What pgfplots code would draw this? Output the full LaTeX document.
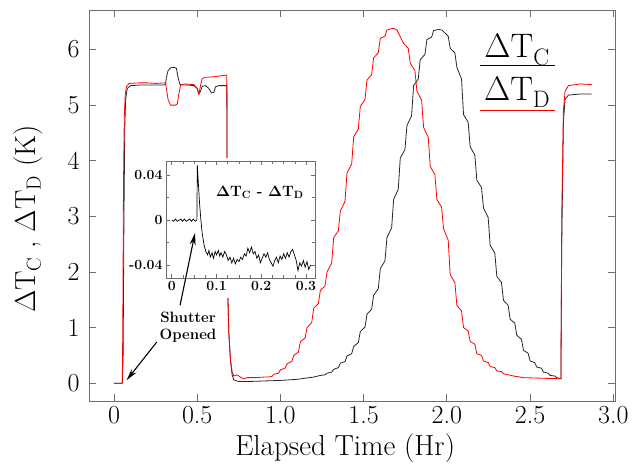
\documentclass[border=0pt]{standalone}
\usepackage{fontspec}
\usepackage{pgfplots}
\pgfplotsset{compat=1.18}
\usetikzlibrary{arrows.meta}
\definecolor{framegray}{RGB}{110,110,110}

\begin{document}
\begin{tikzpicture}
\begin{axis}[
  scale only axis,
  width=526pt, height=391pt,
  xmin=-0.15, xmax=3.01,
  ymin=-0.32, ymax=6.71,
  xtick={0,0.5,1,1.5,2,2.5,3},
  xticklabels={0,0.5,1.0,1.5,2.0,2.5,3.0},
  ytick={0,1,2,3,4,5,6},
  yticklabels={0,1,2,3,4,5,6},
  tick align=inside,
  major tick length=7pt,
  axis line style={framegray, line width=0.9pt},
  every tick/.style={framegray, line width=0.9pt},
  tick label style={font=\fontsize{26}{26}\selectfont},
  xticklabel style={yshift=-2pt},
  yticklabel style={xshift=-6pt},
  xlabel={Elapsed Time (Hr)},
  ylabel={ΔT\textsubscript{C} , ΔT\textsubscript{D} (K)},
  label style={font=\fontsize{29}{29}\selectfont},
  xlabel style={at={(axis description cs:0.487,-0.12)}, anchor=center},
  ylabel style={at={(axis description cs:-0.116,0.465)}, anchor=center},
]
% Delta T_C (black)
\addplot[black!85, line width=0.8pt] coordinates {
(0,0) (0.05,0) (0.055,0.5) (0.06,3.0) (0.065,4.6) (0.07,5.1) (0.08,5.3) (0.1,5.35)
(0.15,5.36) (0.2,5.36) (0.25,5.36) (0.30,5.36) (0.31,5.38) (0.315,5.5) (0.325,5.62)
(0.34,5.67) (0.36,5.68) (0.375,5.66) (0.385,5.5) (0.395,5.38) (0.41,5.36) (0.45,5.36)
(0.48,5.35) (0.50,5.30) (0.51,5.20) (0.52,5.25) (0.53,5.34) (0.55,5.35) (0.57,5.30)
(0.585,5.22) (0.60,5.23) (0.61,5.33) (0.63,5.35) (0.678,5.35) (0.68,3.5) (0.685,1.5)
(0.69,0.9) (0.70,0.4) (0.71,0.15) (0.72,0.06) (0.75,0.03) (0.8,0.03) (0.9,0.04)
(1.0,0.05) (1.1,0.07) (1.2,0.11)
(1.24,0.14) (1.268,0.15) (1.28,0.18) (1.308,0.20) (1.32,0.25) (1.348,0.28)
(1.36,0.36) (1.388,0.39) (1.40,0.49) (1.428,0.53) (1.44,0.66) (1.468,0.73)
(1.48,0.93) (1.508,1.01) (1.52,1.24) (1.548,1.33) (1.56,1.58) (1.588,1.70)
(1.60,2.06) (1.628,2.20) (1.64,2.62) (1.668,2.79) (1.68,3.30) (1.708,3.49)
(1.72,4.05) (1.748,4.20) (1.76,4.63) (1.788,4.81) (1.80,5.35) (1.828,5.47)
(1.84,5.82) (1.868,5.91) (1.88,6.18) (1.908,6.22) (1.92,6.34) (1.95,6.36) (1.97,6.35)
(1.98,6.32) (2.008,6.24) (2.02,6.02) (2.048,5.94) (2.06,5.68) (2.088,5.47)
(2.10,4.83) (2.128,4.69) (2.14,4.25) (2.168,4.10) (2.18,3.65) (2.208,3.52)
(2.22,3.15) (2.248,2.98) (2.26,2.48) (2.288,2.34) (2.30,1.92) (2.328,1.81)
(2.34,1.49) (2.368,1.40) (2.38,1.15) (2.408,1.08) (2.42,0.86) (2.448,0.79)
(2.46,0.59) (2.488,0.54) (2.50,0.40) (2.528,0.37) (2.54,0.29) (2.568,0.27)
(2.58,0.20) (2.608,0.18) (2.62,0.14) (2.648,0.13) (2.66,0.10) (2.685,0.08)
(2.69,2.5) (2.70,4.7) (2.71,5.1) (2.73,5.18) (2.8,5.2) (2.87,5.2)
};
% Delta T_D (red)
\addplot[red, line width=0.8pt] coordinates {
(0,0) (0.05,0) (0.053,1.0) (0.057,3.5) (0.062,4.8) (0.068,5.2) (0.075,5.33) (0.09,5.39)
(0.15,5.40) (0.2,5.40) (0.25,5.39) (0.31,5.40) (0.315,5.3) (0.325,5.1) (0.34,5.0)
(0.37,5.0) (0.38,5.02) (0.39,5.2) (0.40,5.36) (0.42,5.38) (0.48,5.37) (0.50,5.30)
(0.51,5.20) (0.52,5.35) (0.53,5.48) (0.55,5.50) (0.60,5.51) (0.65,5.53) (0.678,5.54)
(0.68,3.5) (0.685,1.5) (0.69,0.9) (0.70,0.42) (0.71,0.2) (0.72,0.13) (0.74,0.15)
(0.76,0.11) (0.78,0.08) (0.8,0.10) (0.85,0.10) (0.9,0.11)
(0.92,0.11) (0.948,0.12) (0.96,0.16) (0.988,0.18) (1.00,0.24) (1.028,0.27)
(1.04,0.35) (1.068,0.39) (1.08,0.50) (1.108,0.56) (1.12,0.75) (1.148,0.81)
(1.16,1.00) (1.188,1.09) (1.20,1.35) (1.228,1.43) (1.24,1.67) (1.268,1.75)
(1.28,2.00) (1.308,2.16) (1.32,2.62) (1.348,2.74) (1.36,3.10) (1.388,3.27)
(1.40,3.78) (1.428,3.94) (1.44,4.43) (1.468,4.57) (1.48,4.98) (1.508,5.10)
(1.52,5.45) (1.548,5.55) (1.56,5.85) (1.588,5.94) (1.60,6.20) (1.628,6.24)
(1.64,6.35) (1.66,6.37) (1.68,6.38) (1.70,6.35)
(1.74,6.11) (1.768,6.02) (1.78,5.75) (1.808,5.62) (1.82,5.25) (1.848,5.09)
(1.86,4.60) (1.888,4.42) (1.90,3.90) (1.928,3.75) (1.94,3.30) (1.968,3.17)
(1.98,2.78) (2.008,2.57) (2.02,1.95) (2.048,1.81) (2.06,1.40) (2.088,1.30)
(2.10,1.00) (2.128,0.94) (2.14,0.75) (2.168,0.70) (2.18,0.53) (2.208,0.50)
(2.22,0.40) (2.248,0.37) (2.26,0.30) (2.288,0.28) (2.30,0.22) (2.328,0.21)
(2.34,0.17) (2.40,0.13) (2.46,0.10) (2.56,0.09) (2.685,0.08)
(2.69,3.0) (2.70,4.9) (2.71,5.25) (2.73,5.35) (2.8,5.38) (2.87,5.37)
};
% legend
\draw[black, line width=1pt] (axis description cs:0.743,0.857) -- (axis description cs:0.886,0.857);
\draw[red, line width=1pt] (axis description cs:0.743,0.744) -- (axis description cs:0.886,0.744);
\node[font=\fontsize{34}{34}\selectfont] at (axis description cs:0.814,0.898) {ΔT\textsubscript{C}};
\node[font=\fontsize{34}{34}\selectfont] at (axis description cs:0.814,0.790) {ΔT\textsubscript{D}};
% annotation
\node[font=\fontsize{15}{17}\selectfont\bfseries, align=center] at (axis cs:0.445,1.01) {Shutter\\Opened};
\coordinate (a1s) at (axis cs:0.397,1.40);
\coordinate (a1e) at (axis cs:0.487,2.70);
\coordinate (a2s) at (axis cs:0.257,0.74);
\coordinate (a2e) at (axis cs:0.076,0.054);
\end{axis}
% white area behind inset
\fill[white] (41pt,103pt) rectangle (229pt,243pt);
\begin{axis}[
  at={(77pt,123pt)}, anchor=south west,
  scale only axis,
  width=149pt, height=117pt,
  xmin=-0.013, xmax=0.32,
  ymin=-0.0516, ymax=0.0528,
  scaled x ticks=false, scaled y ticks=false,
  xtick={0,0.1,0.2,0.3},
  xticklabels={\textbf{0},\textbf{0.1},\textbf{0.2},\textbf{0.3}},
  minor x tick num=3,
  ytick={-0.04,0,0.04},
  yticklabels={\textbf{-0.04},\textbf{0},\textbf{0.04}},
  minor y tick num=1,
  tick align=inside,
  major tick length=4pt, minor tick length=3pt,
  axis line style={framegray, line width=0.8pt},
  every tick/.style={framegray, line width=0.7pt},
  tick label style={font=\fontsize{14}{14}\selectfont},
  axis background/.style={fill=white},
]
\addplot[black, line width=0.7pt] coordinates {
(0.0,0.0) (0.004,-0.001) (0.008,0.001) (0.012,-0.001) (0.016,0.0) (0.02,0.001)
(0.024,-0.001) (0.028,0.001) (0.032,-0.001) (0.036,0.0) (0.04,0.001) (0.044,-0.001)
(0.048,0.001) (0.052,-0.001) (0.055,0.0) (0.056,0.0) (0.057,0.049) (0.059,0.035)
(0.062,0.015) (0.065,0.0) (0.068,-0.012) (0.072,-0.022) (0.076,-0.028) (0.08,-0.031)
(0.083,-0.027) (0.086,-0.033) (0.09,-0.029) (0.093,-0.034) (0.097,-0.028) (0.10,-0.031)
(0.104,-0.027) (0.107,-0.032) (0.11,-0.029) (0.114,-0.033) (0.118,-0.028) (0.122,-0.031)
(0.126,-0.036) (0.13,-0.033) (0.134,-0.038) (0.138,-0.034) (0.142,-0.039) (0.146,-0.035)
(0.15,-0.037) (0.154,-0.033) (0.158,-0.035) (0.162,-0.030) (0.166,-0.032) (0.17,-0.025)
(0.174,-0.029) (0.178,-0.024) (0.182,-0.030) (0.186,-0.028) (0.19,-0.034) (0.194,-0.031)
(0.198,-0.038) (0.202,-0.034) (0.206,-0.030) (0.21,-0.033) (0.214,-0.029) (0.218,-0.035)
(0.222,-0.038) (0.226,-0.041) (0.23,-0.036) (0.234,-0.033) (0.238,-0.038) (0.242,-0.032)
(0.246,-0.035) (0.25,-0.030) (0.254,-0.034) (0.258,-0.029) (0.262,-0.033) (0.266,-0.028)
(0.27,-0.026) (0.274,-0.031) (0.278,-0.036) (0.282,-0.045) (0.286,-0.038) (0.29,-0.041)
(0.294,-0.036) (0.298,-0.042) (0.302,-0.037) (0.306,-0.044) (0.31,-0.040)
};
\node[font=\fontsize{15}{15}\selectfont\bfseries] at (axis description cs:0.63,0.735) {ΔT\textsubscript{C} - ΔT\textsubscript{D}};
\end{axis}
\draw[black, line width=1.1pt, -{Stealth[length=12pt,width=6pt]}] (a1s) -- (a1e);
\draw[black, line width=1.1pt, -{Stealth[length=12pt,width=6pt]}] (a2s) -- (a2e);
\pgfresetboundingbox
\path (-89pt,-63pt) rectangle (553pt,401pt);
\end{tikzpicture}
\end{document}
